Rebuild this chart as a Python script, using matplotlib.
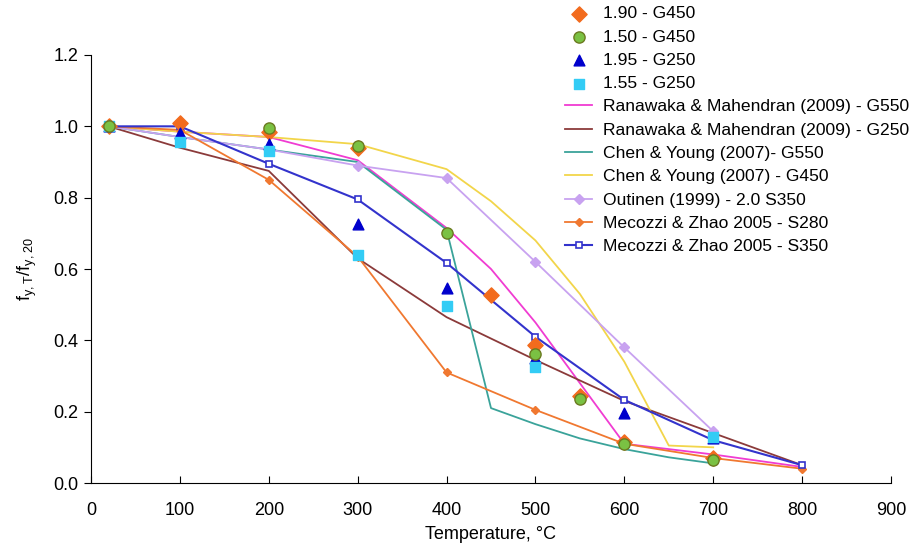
import matplotlib
matplotlib.use("Agg")
import matplotlib.pyplot as plt

plt.rcParams['font.family'] = ['Liberation Sans', 'DejaVu Sans']

# test data (scatter)
t_190_g450 = [20, 100, 200, 300, 450, 500, 550, 600, 700]
v_190_g450 = [1.0, 1.01, 0.985, 0.94, 0.527, 0.387, 0.245, 0.115, 0.07]
t_150_g450 = [20, 200, 300, 400, 500, 550, 600, 700]
v_150_g450 = [1.0, 0.995, 0.945, 0.70, 0.362, 0.236, 0.11, 0.065]
t_195_g250 = [20, 100, 200, 300, 400, 500, 600, 700]
v_195_g250 = [1.0, 0.98, 0.95, 0.725, 0.547, 0.35, 0.195, 0.125]
t_155_g250 = [20, 100, 200, 300, 400, 500, 700]
v_155_g250 = [1.0, 0.955, 0.93, 0.64, 0.496, 0.325, 0.13]

# literature curves
t_ran550 = [20, 100, 200, 300, 400, 450, 500, 600, 700, 800]
v_ran550 = [1.0, 0.985, 0.97, 0.905, 0.715, 0.60, 0.45, 0.11, 0.08, 0.045]
t_ran250 = [20, 100, 200, 300, 400, 500, 600, 700, 800]
v_ran250 = [1.0, 0.94, 0.875, 0.63, 0.465, 0.345, 0.23, 0.14, 0.05]
t_chen550 = [20, 100, 200, 300, 400, 450, 500, 550, 600, 650, 700]
v_chen550 = [1.0, 0.97, 0.935, 0.90, 0.71, 0.21, 0.165, 0.125, 0.095, 0.072, 0.055]
t_chen450 = [20, 100, 200, 300, 400, 450, 500, 550, 600, 650, 700]
v_chen450 = [1.0, 0.985, 0.97, 0.95, 0.88, 0.79, 0.68, 0.53, 0.34, 0.105, 0.10]
t_outinen = [20, 100, 200, 300, 400, 500, 600, 700]
v_outinen = [1.0, 0.97, 0.935, 0.89, 0.855, 0.62, 0.38, 0.145]
t_mec280 = [20, 100, 200, 300, 400, 500, 600, 700, 800]
v_mec280 = [1.0, 0.99, 0.85, 0.635, 0.31, 0.205, 0.11, 0.07, 0.04]
t_mec350 = [20, 100, 200, 300, 400, 500, 600, 700, 800]
v_mec350 = [1.0, 1.0, 0.895, 0.795, 0.617, 0.41, 0.233, 0.12, 0.05]

W, H = 914, 553
fig = plt.figure(figsize=(W / 100, H / 100), dpi=100)
ax = fig.add_axes([91 / W, 1 - 483 / H, 800 / W, 428 / H])

# lines first
ax.plot(t_ran550, v_ran550, color='#F03CD2', lw=1.3, label='Ranawaka & Mahendran (2009) - G550', zorder=2)
ax.plot(t_ran250, v_ran250, color='#8B3A3A', lw=1.3, label='Ranawaka & Mahendran (2009) - G250', zorder=2)
ax.plot(t_chen550, v_chen550, color='#3AA39A', lw=1.3, label='Chen & Young (2007)- G550', zorder=2)
ax.plot(t_chen450, v_chen450, color='#F2D54A', lw=1.3, label='Chen & Young (2007) - G450', zorder=2)
ax.plot(t_outinen, v_outinen, color='#C8A2F0', lw=1.3, marker='D', ms=5,
        label='Outinen (1999) - 2.0 S350', zorder=2)
ax.plot(t_mec280, v_mec280, color='#F07830', lw=1.3, marker='D', ms=4,
        label='Mecozzi & Zhao 2005 - S280', zorder=2)
ax.plot(t_mec350, v_mec350, color='#3333CC', lw=1.5, marker='s', ms=5, mfc='white',
        mew=1.2, label='Mecozzi & Zhao 2005 - S350', zorder=2)

# scatter test data
ax.scatter(t_190_g450, v_190_g450, marker='D', s=60, color='#F26B1D', label='1.90 - G450', zorder=3)
ax.scatter(t_150_g450, v_150_g450, marker='o', s=65, color='#7AC143', edgecolors='#6B7A20',
           linewidths=1.0, label='1.50 - G450', zorder=4)
ax.scatter(t_195_g250, v_195_g250, marker='^', s=60, color='#0000CC', label='1.95 - G250', zorder=3)
ax.scatter(t_155_g250, v_155_g250, marker='s', s=50, color='#33CCF5', label='1.55 - G250', zorder=3)

ax.set_xlim(0, 900)
ax.set_ylim(0, 1.2)
ax.set_xticks(range(0, 901, 100))
ax.set_yticks([0.0, 0.2, 0.4, 0.6, 0.8, 1.0, 1.2])
ax.set_yticklabels(['0.0', '0.2', '0.4', '0.6', '0.8', '1.0', '1.2'])
ax.spines['top'].set_visible(False)
ax.spines['right'].set_visible(False)
ax.tick_params(axis='x', direction='in', length=5, labelsize=13, pad=14)
ax.tick_params(axis='y', direction='out', length=5, labelsize=13, pad=4)
ax.set_xlabel('Temperature, °C', fontsize=13, labelpad=5)
ax.set_ylabel(r'$\mathregular{f_{y,T}/f_{y,20}}$', fontsize=13, labelpad=10)

handles, labels = ax.get_legend_handles_labels()
order = [7, 8, 9, 10, 0, 1, 2, 3, 4, 5, 6]
ax.legend([handles[i] for i in order], [labels[i] for i in order],
          loc='upper left', bbox_to_anchor=(565 / W, 1 - 6 / H), bbox_transform=fig.transFigure,
          frameon=False, fontsize=12.6, handlelength=1.55, labelspacing=0.46,
          handletextpad=0.6, scatterpoints=1, borderaxespad=0, borderpad=0)

fig.savefig('out.png', dpi=100)
